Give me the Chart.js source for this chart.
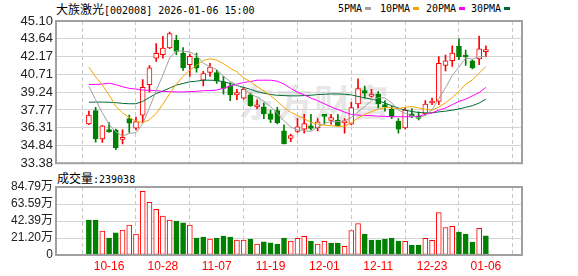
<!DOCTYPE html>
<html>
<head>
<meta charset="utf-8">
<script src="https://cdn.jsdelivr.net/npm/chart.js@4.4.1/dist/chart.umd.min.js"></script>
<style>
  body { margin: 0; width: 578px; height: 276px; position: relative; background: #fff; overflow: hidden; }
  .abs { position: absolute; white-space: nowrap; line-height: 12px; color: #000; }
  .cjk { font-family: "Noto Sans CJK SC", sans-serif; font-size: 12px; }
  .mono { font-family: "DejaVu Sans Mono", monospace; font-size: 10px; }
  .mark { display: inline-block; width: 6px; height: 3px; margin-left: 3px; vertical-align: 2px; }
  .wm { position: absolute; left: 238px; top: 74px; font: bold 37px "Noto Sans CJK SC", sans-serif; color: rgba(0,0,0,0.11); letter-spacing: 1px; }
  .box { position: absolute; left: 0; width: 578px; }
</style>
</head>
<body>
<div class="wm">东方财富</div>
<div class="abs" style="left:56px;top:3px"><span class="cjk">大族激光</span><span class="mono">[002008] 2026-01-06 15:00</span></div>
<div class="abs mono" style="left:338px;top:3px">5PMA<span class="mark" style="background:#a0a0a0"></span></div>
<div class="abs mono" style="left:380px;top:3px">10PMA<span class="mark" style="background:#f5a300"></span></div>
<div class="abs mono" style="left:426px;top:3px">20PMA<span class="mark" style="background:#ff00ff"></span></div>
<div class="abs mono" style="left:471px;top:3px">30PMA<span class="mark" style="background:#006a35"></span></div>
<div class="abs" style="left:57px;top:172px"><span class="cjk">成交量</span><span class="mono">:239038</span></div>
<div class="box" style="top:0;height:174px"><canvas id="kline"></canvas></div>
<div class="box" style="top:172px;height:104px"><canvas id="vol"></canvas></div>
<script>
const dates = ['10-13','10-14','10-15','10-16','10-17','10-20','10-21','10-22','10-23','10-24',
  '10-27','10-28','10-29','10-30','10-31','11-03','11-04','11-05','11-06','11-07',
  '11-10','11-11','11-12','11-13','11-14','11-17','11-18','11-19','11-20','11-21',
  '11-24','11-25','11-26','11-27','11-28','12-01','12-02','12-03','12-04','12-05',
  '12-08','12-09','12-10','12-11','12-12','12-15','12-16','12-17','12-18','12-19',
  '12-22','12-23','12-24','12-25','12-26','12-29','12-30','12-31','01-05','01-06'];

const opens = [36.62, 37.72, 35.38, 36.05, 36.11, 35.35, 37.05, 36.27, 37.34, 39.85,
  42.03, 42.32, 42.89, 43.50, 42.43, 41.51, 42.05, 40.22, 40.87, 40.84,
  40.09, 39.76, 39.01, 38.74, 39.01, 38.02, 38.02, 37.45, 37.72, 36.05,
  35.43, 36.00, 36.19, 36.45, 36.29, 37.32, 36.91, 36.94, 36.70, 36.59,
  38.26, 39.36, 38.88, 39.07, 38.07, 37.85, 36.86, 36.29, 37.45, 37.26,
  37.45, 38.34, 38.47, 41.43, 41.84, 43.02, 42.16, 41.81, 41.97, 42.57];
const closes = [37.34, 35.38, 36.45, 35.98, 34.65, 35.42, 36.67, 36.80, 39.63, 41.24,
  42.43, 42.86, 44.07, 42.59, 41.24, 42.19, 41.22, 40.76, 41.30, 40.14,
  39.55, 39.01, 39.20, 39.47, 38.12, 38.20, 37.45, 36.99, 36.72, 34.97,
  35.65, 36.37, 36.64, 36.24, 36.78, 37.24, 37.13, 36.45, 36.75, 37.96,
  39.52, 39.15, 39.07, 38.28, 38.04, 37.21, 36.19, 37.75, 37.26, 37.07,
  38.26, 38.39, 41.62, 41.81, 42.46, 42.16, 42.13, 41.24, 42.81, 42.62];
const highs = [37.67, 37.99, 36.50, 36.72, 36.19, 36.13, 37.34, 37.18, 40.28, 41.43,
  43.24, 43.83, 44.18, 43.91, 42.91, 42.37, 42.46, 40.95, 41.62, 41.03,
  40.54, 40.01, 39.47, 39.63, 39.15, 38.61, 38.34, 37.75, 37.99, 36.54,
  35.78, 37.05, 37.40, 37.40, 37.05, 37.32, 37.40, 37.40, 37.05, 38.39,
  40.33, 39.74, 39.47, 39.28, 38.55, 38.07, 37.05, 37.93, 37.88, 37.61,
  38.55, 38.74, 42.16, 42.29, 43.05, 43.64, 42.70, 41.89, 43.85, 43.05];
const lows = [36.55, 35.11, 35.10, 35.92, 34.49, 34.97, 35.92, 36.13, 36.72, 39.23,
  41.76, 42.03, 42.81, 42.32, 41.03, 40.54, 40.89, 39.74, 40.54, 39.95,
  39.07, 38.53, 38.61, 38.66, 38.07, 37.88, 37.05, 36.72, 36.62, 34.97,
  35.16, 35.92, 35.86, 36.13, 36.05, 36.59, 36.59, 36.45, 35.86, 36.54,
  37.93, 38.74, 38.82, 37.93, 37.67, 37.05, 35.86, 36.20, 37.13, 36.94,
  37.34, 38.20, 38.20, 40.98, 41.35, 41.92, 41.43, 41.16, 41.51, 42.16];
const prevClose = 37.60;

const ma5 = [39.70, 38.60, 37.53, 36.59, 35.96, 35.62, 35.83, 35.90, 36.63, 37.95,
  39.35, 40.65, 42.05, 42.64, 42.62, 42.55, 42.26, 41.62, 41.34, 41.10,
  40.55, 40.12, 39.82, 39.50, 39.10, 38.82, 38.50, 38.02, 37.50, 36.87,
  36.36, 36.14, 36.07, 36.00, 36.34, 36.65, 36.82, 36.80, 36.88, 37.15,
  37.60, 38.05, 38.55, 38.78, 38.75, 38.35, 37.76, 37.49, 37.29, 37.10,
  37.33, 37.78, 38.70, 39.60, 40.60, 41.30, 42.04, 41.96, 42.16, 42.19];
const ma10 = [41.30, 40.49, 39.82, 39.01, 38.07, 37.53, 37.13, 36.86, 36.72, 36.96,
  37.47, 38.25, 39.10, 39.90, 40.55, 41.05, 41.45, 41.84, 41.99, 41.88,
  41.59, 41.21, 40.92, 40.41, 40.10, 39.70, 39.32, 38.94, 38.49, 37.97,
  37.58, 37.31, 37.06, 36.74, 36.60, 36.51, 36.47, 36.42, 36.42, 36.72,
  37.11, 37.39, 37.63, 37.83, 37.96, 37.96, 37.86, 37.99, 38.04, 37.95,
  37.83, 37.75, 38.01, 38.36, 38.80, 39.30, 39.89, 40.24, 40.80, 41.35];
const ma20 = [39.87, 39.87, 39.90, 39.98, 39.85, 39.68, 39.55, 39.49, 39.41, 39.38,
  39.36, 39.30, 39.28, 39.25, 39.25, 39.28, 39.30, 39.36, 39.36, 39.41,
  39.55, 39.74, 39.90, 40.03, 40.11, 40.22, 40.22, 40.22, 40.14, 39.90,
  39.55, 39.22, 39.01, 38.74, 38.53, 38.28, 38.02, 37.80, 37.59, 37.40,
  37.34, 37.32, 37.30, 37.26, 37.24, 37.21, 37.21, 37.21, 37.21, 37.26,
  37.40, 37.53, 37.75, 37.93, 38.20, 38.47, 38.66, 38.93, 39.20, 39.63];
const ma30 = [38.40, 38.42, 38.42, 38.40, 38.37, 38.31, 38.28, 38.28, 38.47, 38.80,
  39.12, 39.33, 39.57, 39.82, 39.95, 40.09, 40.14, 40.22, 40.22, 40.20,
  40.09, 39.95, 39.79, 39.63, 39.47, 39.28, 39.15, 39.04, 38.98, 38.95,
  38.93, 38.93, 38.95, 38.98, 39.04, 39.06, 39.09, 39.09, 39.06, 39.01,
  38.88, 38.77, 38.66, 38.53, 38.34, 38.12, 37.93, 37.75, 37.64, 37.56,
  37.53, 37.53, 37.61, 37.67, 37.75, 37.85, 37.99, 38.12, 38.34, 38.66];

// volume in 万 (10k shares)
const volumes = [43.4, 43.4, 29.8, 21.1, 27.7, 31.0, 37.2, 26.1, 79.4, 65.8,
  57.1, 48.4, 43.4, 42.2, 40.1, 37.2, 21.1, 22.3, 19.9, 21.1,
  23.6, 22.3, 18.6, 18.6, 19.9, 13.6, 16.5, 15.3, 13.6, 21.1,
  17.4, 20.7, 23.2, 17.4, 13.6, 17.0, 14.9, 14.9, 10.8, 30.6,
  39.3, 26.1, 18.6, 18.6, 19.9, 21.1, 17.4, 17.0, 12.4, 12.4,
  20.7, 18.2, 52.9, 34.3, 35.6, 28.5, 26.1, 16.1, 33.1, 23.9038];

const priceTicks = ['33.38', '34.84', '36.31', '37.77', '39.24', '40.71', '42.17', '43.64', '45.10'];
const volTicks = [0, 21.1975, 42.395, 63.5925, 84.79];
const volTickLabels = ['0', '21.20万', '42.39万', '63.59万', '84.79万'];

const RED = '#ff0000';
const GREEN = '#008000';
const idx = dates.map((d, i) => i);
const up = idx.map(i => closes[i] >= opens[i]);
const volUp = idx.map(i => closes[i] >= (i ? closes[i - 1] : prevClose));

const frame = {
  id: 'frame',
  afterDraw(chart) {
    const { ctx, chartArea: a } = chart;
    ctx.save();
    ctx.strokeStyle = '#a0a0a0';
    ctx.lineWidth = 2;
    ctx.strokeRect(a.left, a.top, a.right - a.left, a.bottom - a.top);
    ctx.restore();
  }
};

function xAxis(showLabels) {
  return {
    type: 'linear', min: -0.56, max: 60.04,
    afterBuildTicks: s => { s.ticks = idx.filter(i => i % 8 === 3).map(v => ({ value: v })); },
    afterFit: s => { s.height = showLabels ? 21 : 0; },
    grid: { color: '#c8c8c8', drawTicks: false },
    border: { display: false, dash: [4, 3] },
    ticks: {
      display: showLabels, autoSkip: false, maxRotation: 0, padding: 4,
      color: RED, font: { family: '"Liberation Sans", Arial, sans-serif', size: 12 },
      callback: v => dates[v]
    }
  };
}

const lineDs = (label, data, color) => ({
  type: 'line', label, data: idx.map(i => ({ x: i, y: data[i] })),
  borderColor: color, borderWidth: 1, pointRadius: 0, tension: 0, order: 1
});

new Chart(document.getElementById('kline'), {
  type: 'bar',
  data: {
    datasets: [
      lineDs('5PMA', ma5, '#a0a0a0'),
      lineDs('10PMA', ma10, '#f5a300'),
      lineDs('20PMA', ma20, '#ff00ff'),
      lineDs('30PMA', ma30, '#006a35'),
      {
        label: 'body', data: idx.map(i => ({ x: i, y: [opens[i], closes[i]] })),
        backgroundColor: up.map(u => u ? '#ffffff' : GREEN),
        borderColor: up.map(u => u ? RED : GREEN),
        borderWidth: 1, borderSkipped: false, barThickness: 5, minBarLength: 2,
        grouped: false, order: 5
      },
      {
        label: 'wick', data: idx.map(i => ({ x: i, y: [lows[i], highs[i]] })),
        backgroundColor: up.map(u => u ? RED : GREEN),
        borderWidth: 0, barThickness: 1, grouped: false, order: 6
      }
    ]
  },
  options: {
    responsive: true, maintainAspectRatio: false, animation: false,
    layout: { padding: { left: 0, right: 56, top: 21, bottom: 9 } },
    plugins: { legend: { display: false }, tooltip: { enabled: false } },
    scales: {
      x: xAxis(false),
      y: {
        min: 33.38, max: 45.10,
        afterBuildTicks: s => { s.ticks = priceTicks.map(t => ({ value: Number(t) })); },
        afterFit: s => { s.width = 56; },
        grid: { color: '#d4d4d4', drawTicks: false },
        border: { display: false },
        ticks: {
          autoSkip: false, padding: 3, color: '#222',
          font: { family: '"Liberation Sans", Arial, sans-serif', size: 13 },
          callback: (v, i) => priceTicks[i]
        }
      }
    }
  },
  plugins: [frame]
});

new Chart(document.getElementById('vol'), {
  type: 'bar',
  data: {
    datasets: [{
      label: '成交量', data: idx.map(i => ({ x: i, y: volumes[i] })),
      backgroundColor: volUp.map(u => u ? '#ffffff' : GREEN),
      borderColor: volUp.map(u => u ? RED : GREEN),
      borderWidth: 1, borderSkipped: false, barThickness: 5, grouped: false
    }]
  },
  options: {
    responsive: true, maintainAspectRatio: false, animation: false,
    layout: { padding: { left: 0, right: 56, top: 15, bottom: 0 } },
    plugins: { legend: { display: false }, tooltip: { enabled: false } },
    scales: {
      x: xAxis(true),
      y: {
        min: 0, max: 84.79,
        afterBuildTicks: s => { s.ticks = volTicks.map(v => ({ value: v })); },
        afterFit: s => { s.width = 56; },
        grid: { color: '#d4d4d4', drawTicks: false },
        border: { display: false },
        ticks: {
          autoSkip: false, padding: 3, color: '#222',
          font: { family: '"Liberation Sans", "Noto Sans CJK SC", sans-serif', size: 12 },
          callback: (v, i) => volTickLabels[i]
        }
      }
    }
  },
  plugins: [frame]
});
</script>
</body>
</html>
